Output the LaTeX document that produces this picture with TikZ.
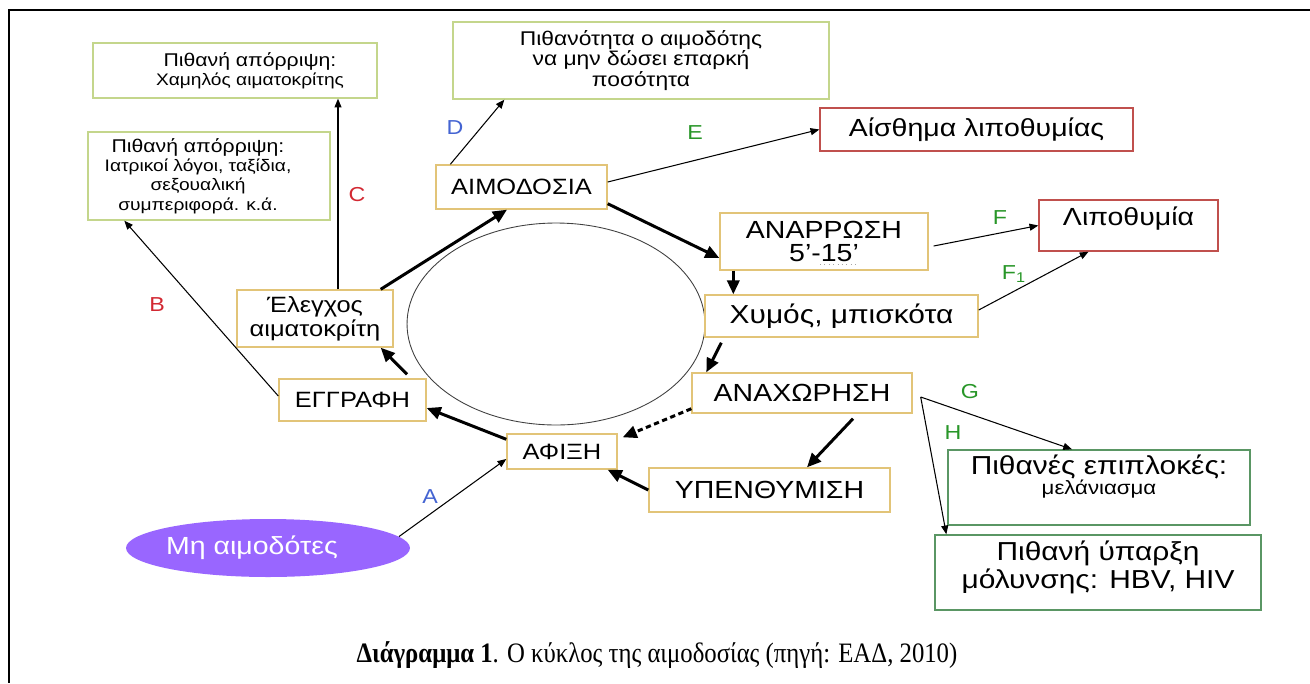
\documentclass[tikz,border=0pt]{standalone}
\usepackage{fontspec}
\setmainfont{Liberation Serif}
\newfontfamily\diagfont[FakeStretch=1.15]{Liberation Sans}
\newfontfamily\captionfont[FakeStretch=0.88]{Liberation Serif}
\usetikzlibrary{arrows.meta,shapes.geometric}
\definecolor{stageline}{RGB}{226,196,120}
\definecolor{rejectline}{RGB}{196,214,140}
\definecolor{faintline}{RGB}{192,80,77}
\definecolor{riskline}{RGB}{90,150,100}
\definecolor{nondonorfill}{RGB}{153,102,255}
\definecolor{tagblue}{RGB}{68,100,210}
\definecolor{tagred}{RGB}{210,40,50}
\definecolor{taggreen}{RGB}{40,150,40}
\tikzset{
  stage/.style={draw=stageline, line width=0.8pt, fill=white, inner sep=0pt,
    align=center, font=\diagfont\fontsize{14.1}{13}\selectfont},
  stagesmall/.style={stage, font=\diagfont\fontsize{12.6}{13.5}\selectfont},
  reject/.style={draw=rejectline, line width=0.8pt, fill=white, inner sep=0pt,
    align=center, font=\diagfont\fontsize{9.5}{11}\selectfont},
  faintbox/.style={stage, draw=faintline},
  riskbox/.style={stage, draw=riskline, font=\diagfont\fontsize{11}{11.5}\selectfont},
  tag/.style={inner sep=0pt, font=\diagfont\fontsize{11.5}{13}\selectfont},
  thin arrow/.style={line width=0.6pt, -{Triangle[length=5pt,width=4pt]}},
  cycle arrow/.style={line width=1.7pt, -{Triangle[length=8pt,width=7pt]}}
}
\begin{document}
\begin{tikzpicture}[x=0.02cm, y=-0.02cm]
    \useasboundingbox (0,0) rectangle (1310,683) ;
    \draw[line width=1.7pt] (8,10) -- (1310,10) ;
    \draw[line width=1pt] (9,10) -- (9,683) ;
    \draw[line width=0.5pt, black!75] (556,324) ellipse [x radius=2.98cm, y radius=2.02cm] ;
    \node[reject, minimum width=5.68cm, minimum height=1.1cm] (rejhct) at (235,70.5)
      {\hspace*{0.6cm}{\fontsize{10.5}{11}\selectfont Πιθανή απόρριψη:}\\\hspace*{0.6cm}Χαμηλός αιματοκρίτης} ;
    \node[reject, minimum width=4.84cm, minimum height=1.76cm] (rejmed) at (209,176)
      {\hspace*{-0.44cm}{\fontsize{10.5}{11}\selectfont Πιθανή απόρριψη:}\\\hspace*{-0.44cm}Ιατρικοί λόγοι, ταξίδια,\\\hspace*{-0.44cm}σεξουαλική\\\hspace*{-0.44cm}συμπεριφορά. κ.ά.} ;
    \node[reject, font=\diagfont\fontsize{11.3}{10.8}\selectfont, minimum width=7.52cm, minimum height=1.54cm] (lowvol) at (641,60.5)
      {Πιθανότητα ο αιμοδότης\\να μην δώσει επαρκή\\ποσότητα} ;
    \node[stagesmall, minimum width=3.42cm, minimum height=0.88cm] (donation) at (521.5,187) {ΑΙΜΟΔΟΣΙΑ} ;
    \node[faintbox, minimum width=6.26cm, minimum height=0.86cm] (faintfeel) at (976.5,129.5) {Αίσθημα λιποθυμίας} ;
    \node[stage, minimum width=4.16cm, minimum height=1.14cm] (recovery) at (824,241.5) {ΑΝΑΡΡΩΣΗ\\5’-15’} ;
    \node[faintbox, text depth=0.38cm, minimum width=3.58cm, minimum height=1.02cm] (faint) at (1128.5,225.5) {Λιποθυμία} ;
    \node[stage, font=\diagfont\fontsize{14.8}{15}\selectfont, minimum width=5.46cm, minimum height=0.84cm] (juice) at (841.5,316) {Χυμός, μπισκότα} ;
    \node[stagesmall, minimum width=3.12cm, minimum height=1.14cm] (hct) at (315,318.5) {Έλεγχος\\αιματοκρίτη} ;
    \node[stagesmall, minimum width=2.94cm, minimum height=0.84cm] (register) at (352.5,400) {ΕΓΓΡΑΦΗ} ;
    \node[stage, minimum width=4.4cm, minimum height=0.8cm] (leave) at (802,393) {ΑΝΑΧΩΡΗΣΗ} ;
    \node[stagesmall, minimum width=2.2cm, minimum height=0.7cm] (arrival) at (562,451.5) {ΑΦΙΞΗ} ;
    \node[stage, minimum width=4.82cm, minimum height=0.88cm] (remind) at (769.5,490) {ΥΠΕΝΘΥΜΙΣΗ} ;
    \node[riskbox, text depth=0.52cm, minimum width=6.04cm, minimum height=1.5cm] (compl) at (1099,487.5)
      {{\fontsize{14.8}{11.5}\selectfont Πιθανές επιπλοκές:}\\μελάνιασμα} ;
    \node[riskbox, font=\diagfont\fontsize{14.8}{16}\selectfont, text depth=0.3cm, minimum width=6.52cm, minimum height=1.5cm] (infect) at (1098,572.5)
      {Πιθανή ύπαρξη\\μόλυνσης: HBV, HIV} ;
    \node[ellipse, fill=nondonorfill, text=white, inner sep=0pt, minimum width=5.68cm, minimum height=1.16cm,
      font=\diagfont\fontsize{14.1}{15}\selectfont] (nondonor) at (268,548) {\hspace*{-0.64cm}Μη αιμοδότες} ;
    \draw[gray!70, dotted, line width=0.5pt] (820,264) -- (857,264) ;
    \node[tag, text=tagblue] (tagA) at (430,497) {A} ;
    \node[tag, text=tagred] (tagB) at (157,305) {B} ;
    \node[tag, text=tagred] (tagC) at (357,195) {C} ;
    \node[tag, text=tagblue] (tagD) at (455,128) {D} ;
    \node[tag, text=taggreen] (tagE) at (695,133) {E} ;
    \node[tag, text=taggreen] (tagF) at (1000,218) {F} ;
    \node[tag, text=taggreen] (tagFa) at (1014,274) {F\textsubscript{1}} ;
    \node[tag, text=taggreen] (tagG) at (970,392) {G} ;
    \node[tag, text=taggreen] (tagH) at (953,433) {H} ;
    \draw[thin arrow] (nondonor.5) -- ([yshift=-0.15cm]arrival.west) ;
    \draw[thin arrow] ([yshift=0.08cm]register.west) -- ([xshift=0.74cm]rejmed.south west) ;
    \draw[thin arrow] ([xshift=0.46cm]hct.north) coordinate (hcttop) -- (hcttop |- rejhct.south) ;
    \draw[thin arrow] ([xshift=0.3cm]donation.north west) -- ([xshift=1.04cm]lowvol.south west) ;
    \draw[thin arrow] ([yshift=0.1cm]donation.east) -- (faintfeel.west) ;
    \draw[thin arrow] ([xshift=0.1cm,yshift=-0.09cm]recovery.east) -- (faint.west) ;
    \draw[thin arrow] ([yshift=0.12cm]juice.east) -- ([xshift=-0.8cm]faint.south) ;
    \coordinate (gh) at ([xshift=0.16cm,yshift=-0.08cm]leave.east) ;
    \draw[thin arrow] (gh) -- ([xshift=-0.54cm]compl.north) ;
    \draw[thin arrow] (gh) -- ([xshift=0.24cm]infect.north west) ;
    \draw[cycle arrow] ([yshift=-0.12cm]arrival.north west) -- ([yshift=-0.16cm]register.east) ;
    \draw[cycle arrow] ([xshift=1.09cm,yshift=0.08cm]register.north) -- ([xshift=-0.26cm]hct.south east) ;
    \draw[cycle arrow] ([xshift=-0.26cm]hct.north east) -- ([xshift=-0.29cm]donation.south) ;
    \draw[cycle arrow] ([yshift=0.12cm]donation.south east) -- ([yshift=-0.33cm]recovery.west) ;
    \draw[cycle arrow] ([xshift=0.28cm]recovery.south west) coordinate (recbot) -- (recbot |- juice.north) ;
    \draw[cycle arrow] ([xshift=0.34cm,yshift=-0.1cm]juice.south west) -- ([xshift=0.3cm]leave.north west) ;
    \draw[cycle arrow] ([xshift=1.02cm,yshift=-0.1cm]leave.south) -- ([xshift=0.75cm]remind.north) ;
    \draw[cycle arrow] (remind.west) -- ([xshift=-0.2cm]arrival.south east) ;
    \draw[cycle arrow, dash pattern=on 3pt off 2pt] ([yshift=0.1cm]leave.south west) -- ([xshift=0.1cm,yshift=-0.08cm]arrival.north east) ;
    \node[font=\captionfont\fontsize{16}{18}\selectfont] (caption) at (657,655)
      {\textbf{Διάγραμμα 1}. Ο κύκλος της αιμοδοσίας (πηγή: ΕΑΔ, 2010)} ;
  \end{tikzpicture}
\end{document}
